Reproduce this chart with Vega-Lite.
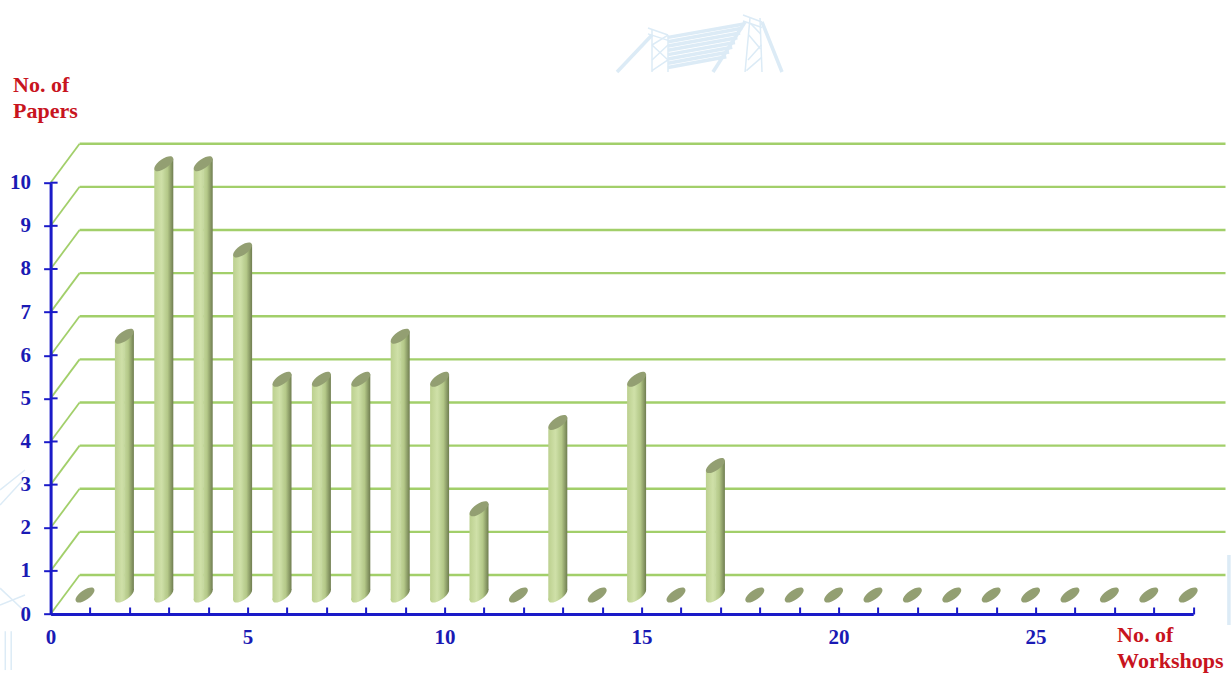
{
  "$schema": "https://vega.github.io/schema/vega-lite/v6.json",
  "autosize": {"type": "none"},
  "padding": {"left": 50.6, "top": 182.7, "right": 37.8, "bottom": 59},
  "width": 1142.6,
  "height": 431.3,
  "background": "#ffffff",
  "config": {"view": {"stroke": null}, "axis": {"labelOverlap": false}},
  "resolve": {"axis": {"x": "independent", "y": "independent"}},
  "datasets": {
    "papers": [
      {"workshops": 1, "papers": 0}, {"workshops": 2, "papers": 6}, {"workshops": 3, "papers": 10},
      {"workshops": 4, "papers": 10}, {"workshops": 5, "papers": 8}, {"workshops": 6, "papers": 5},
      {"workshops": 7, "papers": 5}, {"workshops": 8, "papers": 5}, {"workshops": 9, "papers": 6},
      {"workshops": 10, "papers": 5}, {"workshops": 11, "papers": 2}, {"workshops": 12, "papers": 0},
      {"workshops": 13, "papers": 4}, {"workshops": 14, "papers": 0}, {"workshops": 15, "papers": 5},
      {"workshops": 16, "papers": 0}, {"workshops": 17, "papers": 3}, {"workshops": 18, "papers": 0},
      {"workshops": 19, "papers": 0}, {"workshops": 20, "papers": 0}, {"workshops": 21, "papers": 0},
      {"workshops": 22, "papers": 0}, {"workshops": 23, "papers": 0}, {"workshops": 24, "papers": 0},
      {"workshops": 25, "papers": 0}, {"workshops": 26, "papers": 0}, {"workshops": 27, "papers": 0},
      {"workshops": 28, "papers": 0}, {"workshops": 29, "papers": 0}
    ],
    "levels": [
      {"level": 0}, {"level": 1}, {"level": 2}, {"level": 3}, {"level": 4}, {"level": 5},
      {"level": 6}, {"level": 7}, {"level": 8}, {"level": 9}, {"level": 10}
    ],
    "emblem": [
      {"part": "strut", "x": 14.376, "y": 12.567, "x2": 15.264, "y2": 13.425},
      {"part": "strut", "x": 16.812, "y": 12.567, "x2": 17.626, "y2": 13.726},
      {"part": "strut", "x": 18.056, "y": 13.726, "x2": 18.563, "y2": 12.567},
      {"part": "frame", "x": 15.264, "y": 12.567, "x2": 15.264, "y2": 13.541},
      {"part": "frame", "x": 15.67, "y": 12.567, "x2": 15.67, "y2": 13.425},
      {"part": "frame", "x": 15.264, "y": 12.845, "x2": 15.67, "y2": 13.193},
      {"part": "frame", "x": 15.264, "y": 13.193, "x2": 15.67, "y2": 12.845},
      {"part": "frame", "x": 15.264, "y": 12.6, "x2": 15.67, "y2": 12.845},
      {"part": "frame", "x": 15.264, "y": 13.193, "x2": 15.67, "y2": 13.42},
      {"part": "frame", "x": 15.162, "y": 13.587, "x2": 15.67, "y2": 13.425},
      {"part": "frame", "x": 15.162, "y": 13.45, "x2": 15.67, "y2": 13.3},
      {"part": "frame", "x": 17.626, "y": 12.567, "x2": 17.751, "y2": 13.819},
      {"part": "frame", "x": 18.056, "y": 12.567, "x2": 18.005, "y2": 13.819},
      {"part": "frame", "x": 17.7, "y": 12.845, "x2": 18.04, "y2": 13.193},
      {"part": "frame", "x": 17.72, "y": 13.425, "x2": 18.02, "y2": 13.1},
      {"part": "frame", "x": 17.66, "y": 12.6, "x2": 18.04, "y2": 12.9},
      {"part": "frame", "x": 17.76, "y": 13.7, "x2": 18.02, "y2": 13.45},
      {"part": "frame", "x": 17.574, "y": 13.888, "x2": 18.056, "y2": 13.726},
      {"part": "frame", "x": 17.574, "y": 13.75, "x2": 18.056, "y2": 13.6},
      {"part": "strut", "x": 15.67, "y": 13.37, "x2": 17.6, "y2": 13.68},
      {"part": "strut", "x": 15.67, "y": 13.27, "x2": 17.55, "y2": 13.58},
      {"part": "strut", "x": 15.67, "y": 13.17, "x2": 17.5, "y2": 13.47},
      {"part": "strut", "x": 15.67, "y": 13.07, "x2": 17.43, "y2": 13.36},
      {"part": "strut", "x": 15.67, "y": 12.97, "x2": 17.37, "y2": 13.25},
      {"part": "strut", "x": 15.67, "y": 12.87, "x2": 17.3, "y2": 13.14},
      {"part": "strut", "x": 15.67, "y": 12.77, "x2": 17.22, "y2": 13.03},
      {"part": "strut", "x": 15.67, "y": 12.67, "x2": 17.15, "y2": 12.92},
      {"part": "frame", "x": -1.284, "y": 2.875, "x2": -0.65, "y2": 3.339},
      {"part": "frame", "x": -1.284, "y": 2.527, "x2": -0.7, "y2": 3.107},
      {"part": "frame", "x": -1.284, "y": 0.209, "x2": -0.65, "y2": 0.44},
      {"part": "frame", "x": -1.284, "y": 0.6, "x2": -0.7, "y2": 0.1},
      {"part": "frame", "x": -1.15, "y": -1.3, "x2": -1.15, "y2": -0.4},
      {"part": "frame", "x": -1.0, "y": -1.3, "x2": -1.0, "y2": -0.4},
      {"part": "strut", "x": 29.907, "y": 1.368, "x2": 29.907, "y2": -0.255}
    ]
  },
  "layer": [
    {
      "data": {"name": "emblem"},
      "mark": {"type": "rule", "color": "#dcebf6"},
      "encoding": {
        "x": {
          "field": "x",
          "type": "quantitative",
          "scale": {"domain": [0, 29], "nice": false, "zero": false, "padding": 0},
          "axis": {
            "values": [0, 1, 2, 3, 4, 5, 6, 7, 8, 9, 10, 11, 12, 13, 14, 15, 16, 17, 18, 19, 20, 21, 22, 23, 24, 25, 26, 27, 28, 29],
            "labelExpr": "datum.value % 5 === 0 ? datum.label : ''",
            "labelOverlap": false,
            "labelFlush": false,
            "grid": false,
            "zindex": 1,
            "domainColor": "#1a1ac8",
            "domainWidth": 3,
            "tickColor": "#1a1ac8",
            "tickWidth": 2,
            "tickSize": -7,
            "labelPadding": 19,
            "labelColor": "#1a1ab4",
            "labelFont": "Liberation Serif",
            "labelFontWeight": "bold",
            "labelFontSize": 21,
            "title": ["No. of", "Workshops"],
            "titleColor": "#c8141e",
            "titleFont": "Liberation Serif",
            "titleFontWeight": "bold",
            "titleFontSize": 22,
            "titleLineHeight": 26,
            "titleAlign": "left",
            "titleBaseline": "alphabetic",
            "titleX": 1066,
            "titleY": 27
          }
        },
        "y": {
          "field": "y",
          "type": "quantitative",
          "scale": {"domain": [0, 10], "nice": false, "zero": false},
          "axis": {
            "values": [0, 1, 2, 3, 4, 5, 6, 7, 8, 9, 10],
            "grid": false,
            "zindex": 1,
            "domainColor": "#1a1ac8",
            "domainWidth": 3,
            "tickColor": "#1a1ac8",
            "tickWidth": 2,
            "tickSize": 7,
            "labelPadding": 13,
            "labelColor": "#1a1ab4",
            "labelFont": "Liberation Serif",
            "labelFontWeight": "bold",
            "labelFontSize": 21,
            "title": ["No. of", "Papers"],
            "titleColor": "#c8141e",
            "titleFont": "Liberation Serif",
            "titleFontWeight": "bold",
            "titleFontSize": 22,
            "titleLineHeight": 26,
            "titleAngle": 0,
            "titleAlign": "left",
            "titleBaseline": "alphabetic",
            "titleX": -38,
            "titleY": -91
          }
        },
        "x2": {"field": "x2"},
        "y2": {"field": "y2"},
        "size": {
          "field": "part",
          "type": "nominal",
          "legend": null,
          "scale": {"domain": ["frame", "strut"], "range": [1.5, 3.5]}
        }
      }
    },
    {
      "data": {"name": "levels"},
      "mark": {"type": "rule", "color": "#a2cf6a", "strokeWidth": 1.8, "x2Offset": 29, "y2Offset": -39},
      "encoding": {
        "x": {"datum": 0, "type": "quantitative", "axis": null},
        "x2": {"datum": 0},
        "y": {"field": "level", "type": "quantitative", "axis": null},
        "y2": {"field": "level"}
      }
    },
    {
      "data": {"name": "levels"},
      "mark": {"type": "rule", "color": "#a2cf6a", "strokeWidth": 2.4, "xOffset": 29, "yOffset": -39},
      "encoding": {
        "x": {"datum": 0, "type": "quantitative", "axis": null},
        "x2": {"datum": 29.82},
        "y": {"field": "level", "type": "quantitative", "axis": null}
      }
    },
    {
      "data": {"name": "levels"},
      "mark": {"type": "rule", "color": "#1a1ac8", "strokeWidth": 2, "x2Offset": 7},
      "encoding": {
        "x": {"datum": 0, "type": "quantitative", "axis": null},
        "x2": {"datum": 0},
        "y": {"field": "level", "type": "quantitative", "axis": null}
      }
    },
    {
      "data": {"name": "papers"},
      "transform": [{"filter": "datum.papers > 0"}],
      "mark": {
        "type": "point",
        "filled": true,
        "opacity": 1,
        "size": 484,
        "xOffset": -5,
        "yOffset": -19,
        "shape": "M-0.82,0.57 A1 0.41 -35 1 1 0.82,-0.57 A1 0.41 -35 1 1 -0.82,0.57 Z",
        "fill": {
          "gradient": "linear", "x1": 0, "x2": 1, "y1": 0, "y2": 0,
          "stops": [
            {"offset": 0, "color": "#bcd08f"},
            {"offset": 0.35, "color": "#cfe0a8"},
            {"offset": 0.7, "color": "#b4c888"},
            {"offset": 1, "color": "#6f7d50"}
          ]
        }
      },
      "encoding": {
        "x": {"field": "workshops", "type": "quantitative", "axis": null},
        "y": {"datum": 0, "type": "quantitative", "axis": null}
      }
    },
    {
      "data": {"name": "papers"},
      "transform": [{"filter": "datum.papers > 0"}],
      "mark": {
        "type": "bar",
        "orient": "vertical",
        "size": 10,
        "xOffset": -9.5,
        "yOffset": -14,
        "y2Offset": -14,
        "fill": {
          "gradient": "linear", "x1": 0, "x2": 1, "y1": 0, "y2": 0,
          "stops": [
            {"offset": 0, "color": "#bcd08f"},
            {"offset": 0.7, "color": "#cfe0a8"},
            {"offset": 1, "color": "#c4d79c"}
          ]
        }
      },
      "encoding": {
        "x": {"field": "workshops", "type": "quantitative", "axis": null},
        "y": {"field": "papers", "type": "quantitative", "axis": null},
        "y2": {"datum": 0}
      }
    },
    {
      "data": {"name": "papers"},
      "transform": [{"filter": "datum.papers > 0"}],
      "mark": {
        "type": "bar",
        "orient": "vertical",
        "size": 9.5,
        "xOffset": -0.25,
        "yOffset": -24,
        "y2Offset": -24,
        "fill": {
          "gradient": "linear", "x1": 0, "x2": 1, "y1": 0, "y2": 0,
          "stops": [
            {"offset": 0, "color": "#c4d79c"},
            {"offset": 0.4, "color": "#b4c888"},
            {"offset": 1, "color": "#6f7d50"}
          ]
        }
      },
      "encoding": {
        "x": {"field": "workshops", "type": "quantitative", "axis": null},
        "y": {"field": "papers", "type": "quantitative", "axis": null},
        "y2": {"datum": 0}
      }
    },
    {
      "data": {"name": "papers"},
      "mark": {
        "type": "point",
        "filled": true,
        "opacity": 1,
        "size": 484,
        "xOffset": -5,
        "yOffset": -19,
        "color": "#939f72",
        "shape": "M-0.82,0.57 A1 0.41 -35 1 1 0.82,-0.57 A1 0.41 -35 1 1 -0.82,0.57 Z"
      },
      "encoding": {
        "x": {"field": "workshops", "type": "quantitative", "axis": null},
        "y": {"field": "papers", "type": "quantitative", "axis": null}
      }
    }
  ]
}
